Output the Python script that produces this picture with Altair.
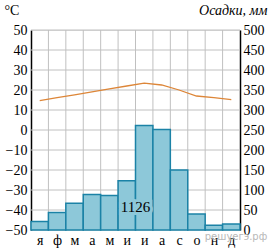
import altair as alt
import pandas as pd

months = ["я", "ф", "м", "а", "м", "и", "и", "а", "с", "о", "н", "д"]
precip = [21, 44, 67, 89, 86, 123, 261, 251, 150, 40, 12, 15]
temp = [14.7, 16.2, 17.6, 19.1, 20.6, 22.0, 23.4, 22.5, 20.0, 17.0, 16.2, 15.2]
total_label = "1126"
watermark = "решуегэ.рф"

df = pd.DataFrame({
    "i": list(range(12)),
    "start": list(range(12)),
    "end": [i + 1 for i in range(12)],
    "mid": [i + 0.5 for i in range(12)],
    "month": months,
    "precip": precip,
    "temp": temp,
})
vgrid_df = pd.DataFrame({"g": list(range(1, 12))})
hgrid_df = pd.DataFrame({"h": list(range(50, 501, 50))})

FONT = "Liberation Serif"
BAR_FILL = "#8dc8d9"
label_expr = "[" + ",".join(f"'{m}'" for m in months) + "][floor(datum.value)]"

xscale = alt.Scale(domain=[0, 12], nice=False, zero=False)
pscale = alt.Scale(domain=[0, 500], nice=False)
tscale = alt.Scale(domain=[-50, 50], nice=False)
xaxis = alt.Axis(values=[i + 0.5 for i in range(12)], labelExpr=label_expr,
                 grid=False, ticks=False, domain=False, title=None,
                 labelFont=FONT, labelFontSize=14, labelColor="black",
                 labelPadding=3, labelFlush=False, labelOverlap=False)
paxis = alt.Axis(orient="right", values=list(range(0, 501, 50)),
                 grid=False, ticks=False, domainColor="black", domainWidth=1.5,
                 labelFont=FONT, labelFontSize=14, labelColor="black",
                 labelPadding=3, labelOverlap=False, labelFlush=False,
                 title="Осадки, мм", titleFont=FONT,
                 titleFontStyle="italic", titleFontWeight="normal",
                 titleFontSize=14, titleColor="black", titleAngle=0,
                 titleAlign="right", titleBaseline="alphabetic",
                 titleX=27, titleY=-16)
taxis = alt.Axis(orient="left", values=list(range(-50, 51, 10)),
                 grid=False, ticks=False, domainColor="black", domainWidth=1.5,
                 labelFont=FONT, labelFontSize=14, labelColor="black",
                 labelPadding=4, labelOverlap=False, labelFlush=False,
                 title="°C", titleFont=FONT,
                 titleFontWeight="normal", titleFontSize=14,
                 titleColor="black", titleAngle=0, titleAlign="left",
                 titleBaseline="alphabetic", titleX=-27, titleY=-16)

vgrid = alt.Chart(vgrid_df).mark_rule(color="#c0c0c0", strokeWidth=1).encode(
    x=alt.X("g:Q", scale=xscale, axis=xaxis)
)
hgrid = alt.Chart(hgrid_df).mark_rule(color="#c0c0c0", strokeWidth=1).encode(
    y=alt.Y("h:Q", scale=pscale, axis=paxis)
)

bars = alt.Chart(df).mark_rect(fill=BAR_FILL, stroke="#1b82a6", strokeWidth=1.5).encode(
    x=alt.X("start:Q", scale=xscale, axis=xaxis),
    x2="end:Q",
    y=alt.Y("precip:Q", scale=pscale, axis=paxis),
    y2=alt.Y2(datum=0),
)

precip_group = alt.layer(vgrid, hgrid, bars)

line = alt.Chart(df).mark_line(color="#dd8638", strokeWidth=1.3).encode(
    x=alt.X("mid:Q", scale=xscale, axis=xaxis),
    y=alt.Y("temp:Q", scale=tscale, axis=taxis),
)

ann_df = pd.DataFrame({"x": [6.0], "y": [-38.5], "t": [total_label]})
ann_halo = alt.Chart(ann_df).mark_text(font=FONT, fontSize=15, color=BAR_FILL,
                                       stroke=BAR_FILL, strokeWidth=6,
                                       align="center", baseline="middle").encode(
    x=alt.X("x:Q", scale=xscale, axis=xaxis),
    y=alt.Y("y:Q", scale=tscale, axis=taxis), text="t:N"
)
ann = alt.Chart(ann_df).mark_text(font=FONT, fontSize=15, color="black",
                                  align="center", baseline="middle").encode(
    x=alt.X("x:Q", scale=xscale, axis=xaxis),
    y=alt.Y("y:Q", scale=tscale, axis=taxis), text="t:N"
)

wm_df = pd.DataFrame({"x": [11.77], "y": [-53.6], "t": [watermark]})
wm = alt.Chart(wm_df).mark_text(font="DejaVu Sans", fontSize=10, color="#b8b8b8",
                                align="center", baseline="middle").encode(
    x=alt.X("x:Q", scale=xscale, axis=xaxis),
    y=alt.Y("y:Q", scale=tscale, axis=taxis), text="t:N"
)

temp_group = alt.layer(line, ann_halo, ann, wm)

chart = alt.layer(precip_group, temp_group).resolve_scale(y="independent").properties(
    width=209, height=200,
    autosize=alt.AutoSizeParams(type="none"),
    padding={"left": 31, "top": 30, "right": 29, "bottom": 18},
).configure_view(stroke=None).configure(background="white")

chart.save("out.html", embed_options={"renderer": "svg", "actions": False})
